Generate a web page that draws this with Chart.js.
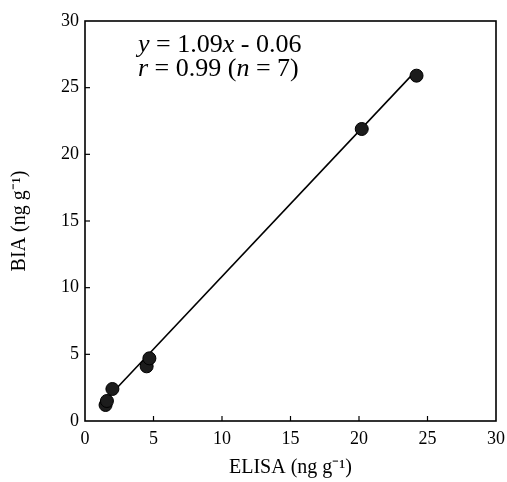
<!DOCTYPE html>
<html><head><meta charset="utf-8">
<script src="https://cdn.jsdelivr.net/npm/chart.js@4.4.1/dist/chart.umd.min.js"></script>
<style>html,body{margin:0;padding:0;background:#fff;}#wrap{width:507px;height:482px;}</style>
</head><body><div id="wrap"><canvas id="c" width="507" height="482"></canvas></div>
<script>
const elisa = [1.5, 1.6, 2.0, 4.5, 4.7, 20.2, 24.2];
const bia = [1.2, 1.5, 2.4, 4.1, 4.7, 21.9, 25.9];
const fitSlope = 1.09;
const fitIntercept = -0.06;
const fitX = [1.5, 24.2];
const tickValues = [0, 5, 10, 15, 20, 25, 30];
const xTitle = 'ELISA (ng g\u207B\u00B9)';
const yTitle = 'BIA (ng g\u207B\u00B9)';
const eqLine1 = [['y', true], [' = 1.09', false], ['x', true], [' - 0.06', false]];
const eqLine2 = [['r', true], [' = 0.99 (', false], ['n', true], [' = 7)', false]];

const FONT = "'Liberation Serif', 'Times New Roman', serif";

const points = elisa.map((x, i) => ({x: x, y: bia[i]}));
const fitPts = fitX.map(x => ({x: x, y: fitSlope * x + fitIntercept}));

const framePlugin = {
  id: 'frame',
  afterDraw(chart) {
    const ctx = chart.ctx, a = chart.chartArea;
    const xs = chart.scales.x, ys = chart.scales.y;
    ctx.save();
    ctx.strokeStyle = '#000';
    ctx.lineWidth = 1.6;
    ctx.strokeRect(a.left, a.top, a.right - a.left, a.bottom - a.top);
    ctx.lineWidth = 1.2;
    tickValues.slice(1, -1).forEach(v => {
      const px = xs.getPixelForValue(v);
      ctx.beginPath(); ctx.moveTo(px, a.bottom); ctx.lineTo(px, a.bottom - 5); ctx.stroke();
      const py = ys.getPixelForValue(v);
      ctx.beginPath(); ctx.moveTo(a.left, py); ctx.lineTo(a.left + 5, py); ctx.stroke();
    });
    ctx.fillStyle = '#000';
    ctx.textBaseline = 'alphabetic';
    const drawLine = (segs, x, y) => {
      segs.forEach(([t, it]) => {
        ctx.font = (it ? 'italic ' : '') + '26px ' + FONT;
        ctx.fillText(t, x, y);
        x += ctx.measureText(t).width;
      });
    };
    drawLine(eqLine1, a.left + 53, a.top + 31);
    drawLine(eqLine2, a.left + 53, a.top + 55);
    ctx.restore();
  }
};

new Chart(document.getElementById('c'), {
  type: 'scatter',
  data: {
    datasets: [
      {
        type: 'line',
        data: fitPts,
        borderColor: '#000',
        borderWidth: 1.6,
        pointRadius: 0,
        fill: false,
        order: 2
      },
      {
        data: points,
        backgroundColor: '#1c1c1c',
        borderColor: '#000',
        borderWidth: 1,
        pointRadius: 6.5,
        order: 1
      }
    ]
  },
  options: {
    responsive: false,
    animation: false,
    layout: {padding: {top: 21, right: 11, left: 0, bottom: 0}},
    plugins: {legend: {display: false}, tooltip: {enabled: false}},
    scales: {
      x: {
        type: 'linear', min: 0, max: 30,
        afterFit(s) { s.height = 61; s.paddingRight = 0; s.paddingLeft = 0; },
        afterBuildTicks(s) { s.ticks = tickValues.map(v => ({value: v})); },
        grid: {display: false, drawTicks: false},
        border: {display: false},
        ticks: {color: '#000', padding: 7, font: {family: FONT, size: 18}},
        title: {display: true, text: xTitle, color: '#000', font: {family: FONT, size: 20}, padding: {top: 0, bottom: 2}}
      },
      y: {
        type: 'linear', min: 0, max: 30,
        afterFit(s) { s.width = 85; },
        afterBuildTicks(s) { s.ticks = tickValues.map(v => ({value: v})); },
        grid: {display: false, drawTicks: false},
        border: {display: false},
        ticks: {color: '#000', padding: 6, font: {family: FONT, size: 18}},
        title: {display: true, text: yTitle, color: '#000', font: {family: FONT, size: 20}, padding: {top: 8, bottom: 0}}
      }
    }
  },
  plugins: [framePlugin]
});
</script>
</body></html>
